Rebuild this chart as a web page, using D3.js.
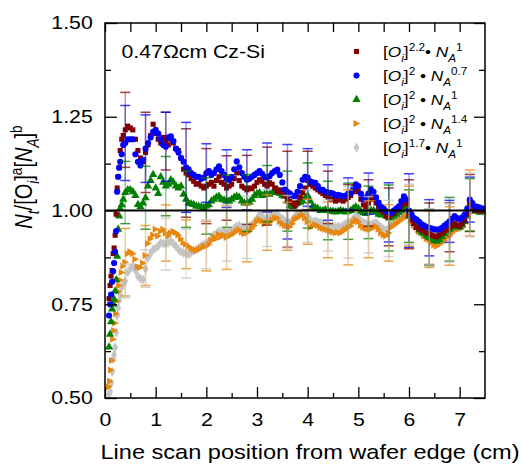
<!DOCTYPE html>
<html>
<head>
<meta charset="utf-8">
<script src="https://cdn.jsdelivr.net/npm/d3@7"></script>
<style>
  body { margin: 0; background: #fff; }
  text { font-family: "Liberation Sans", Arial, sans-serif; fill: #000; }
</style>
</head>
<body>
<svg width="521" height="465"></svg>
<script>
// scan positions (cm from wafer edge)
const positions = [
  0.08, 0.10, 0.12, 0.14, 0.16, 0.18, 0.20, 0.22, 0.24, 0.26, 0.28, 0.30, 0.33, 0.36, 0.40, 0.45,
  0.50, 0.55, 0.60, 0.65, 0.70, 0.75, 0.80, 0.85, 0.90, 0.95,
  1.00, 1.05, 1.10, 1.15, 1.20, 1.25, 1.30, 1.35, 1.40, 1.45,
  1.50, 1.55, 1.60, 1.65, 1.70, 1.75, 1.80, 1.85, 1.90, 1.95,
  2.00, 2.05, 2.10, 2.15, 2.20, 2.25, 2.30, 2.35, 2.40, 2.45,
  2.50, 2.55, 2.60, 2.65, 2.70, 2.75, 2.80, 2.85, 2.90, 2.95,
  3.00, 3.05, 3.10, 3.15, 3.20, 3.25, 3.30, 3.35, 3.40, 3.45,
  3.50, 3.55, 3.60, 3.65, 3.70, 3.75, 3.80, 3.85, 3.90, 3.95,
  4.00, 4.05, 4.10, 4.15, 4.20, 4.25, 4.30, 4.35, 4.40, 4.45,
  4.50, 4.55, 4.60, 4.65, 4.70, 4.75, 4.80, 4.85, 4.90, 4.95,
  5.00, 5.05, 5.10, 5.15, 5.20, 5.25, 5.30, 5.35, 5.40, 5.45,
  5.50, 5.55, 5.60, 5.65, 5.70, 5.75, 5.80, 5.85, 5.90, 5.95,
  6.00, 6.05, 6.10, 6.15, 6.20, 6.25, 6.30, 6.35, 6.40, 6.45,
  6.50, 6.55, 6.60, 6.65, 6.70, 6.75, 6.80, 6.85, 6.90, 6.95,
  7.00, 7.05, 7.10, 7.15, 7.20, 7.25, 7.30, 7.35, 7.40, 7.45
];

// [Oi]^2.2 * NA^1
const sq22 = [
  0.765, 0.80, 0.825, 0.84, 0.885, 0.90, 0.934, 0.99, 1.06, 1.09, 1.115, 1.16, 1.19, 1.20, 1.215, 1.225,
  1.22, 1.215, 1.19, 1.16, 1.14, 1.13, 1.155, 1.175, 1.20, 1.23,
  1.205, 1.19, 1.18, 1.195, 1.185, 1.175, 1.19, 1.18, 1.165, 1.16,
  1.14, 1.11, 1.10, 1.095, 1.085, 1.078, 1.07, 1.072, 1.065, 1.06,
  1.065, 1.07, 1.075, 1.065, 1.08, 1.09, 1.075, 1.07, 1.06, 1.065,
  1.07, 1.085, 1.10, 1.08, 1.065, 1.06, 1.055, 1.06, 1.058, 1.065,
  1.075, 1.082, 1.078, 1.07, 1.065, 1.074, 1.07, 1.06, 1.05, 1.055,
  1.05, 1.04, 1.03, 1.025, 1.02, 1.012, 1.02, 1.035, 1.048, 1.06,
  1.08, 1.07, 1.065, 1.06, 1.055, 1.05, 1.045, 1.04, 1.035, 1.03,
  1.03, 1.025, 1.03, 1.028, 1.025, 1.03, 1.035, 1.04, 1.05, 1.056,
  1.05, 1.03, 1.015, 1.01, 1.02, 1.03, 1.035, 1.02, 1.01, 1.0,
  0.995, 0.985, 0.983, 0.99, 0.992, 1.0, 1.005, 1.012, 1.02, 1.018,
  0.99, 0.975, 0.965, 0.955, 0.95, 0.948, 0.945, 0.94, 0.938, 0.935,
  0.932, 0.93, 0.935, 0.94, 0.945, 0.95, 0.955, 0.96, 0.965, 0.96,
  0.958, 0.965, 0.975, 0.99, 1.02, 1.01, 1.0, 1.005, 0.998, 1.0
];

// [Oi]^2 * NA^0.7
const ci2 = [
  0.72, 0.75, 0.776, 0.81, 0.838, 0.86, 0.89, 0.945, 1.05, 1.09, 1.114, 1.13, 1.15, 1.175, 1.18, 1.19,
  1.19, 1.19, 1.15, 1.13, 1.12, 1.135, 1.165, 1.18, 1.195, 1.21,
  1.215, 1.205, 1.19, 1.175, 1.17, 1.195, 1.198, 1.185, 1.165, 1.155,
  1.14, 1.13, 1.115, 1.11, 1.10, 1.095, 1.09, 1.09, 1.085, 1.088,
  1.10, 1.105, 1.095, 1.10, 1.11, 1.118, 1.105, 1.095, 1.085, 1.082,
  1.09, 1.11, 1.131, 1.115, 1.10, 1.09, 1.082, 1.085, 1.09, 1.095,
  1.10, 1.105, 1.098, 1.09, 1.088, 1.092, 1.10, 1.105, 1.109, 1.095,
  1.075, 1.056, 1.05, 1.045, 1.04, 1.038, 1.05, 1.065, 1.082, 1.09,
  1.088, 1.078, 1.075, 1.074, 1.065, 1.056, 1.055, 1.05, 1.048, 1.047,
  1.045, 1.04, 1.042, 1.04, 1.038, 1.04, 1.045, 1.047, 1.06, 1.07,
  1.065, 1.045, 1.03, 1.035, 1.045, 1.056, 1.05, 1.035, 1.021, 1.01,
  1.005, 0.998, 0.995, 0.994, 1.0, 1.005, 1.011, 1.025, 1.038, 1.03,
  1.0, 0.99, 0.98, 0.976, 0.97, 0.963, 0.96, 0.956, 0.954, 0.952,
  0.95, 0.949, 0.95, 0.954, 0.96, 0.965, 0.971, 0.978, 0.985, 0.98,
  0.976, 0.982, 0.989, 1.005, 1.029, 1.02, 1.011, 1.01, 1.008, 1.005
];

// [Oi]^2 * NA^1
const tr2 = [
  0.636, 0.67, 0.703, 0.737, 0.75, 0.763, 0.785, 0.815, 0.878, 0.95, 0.985, 1.005, 1.015, 1.03, 1.048, 1.055,
  1.055, 1.05, 1.04, 1.016, 1.01, 1.02, 1.034, 1.065, 1.08, 1.096,
  1.06, 1.045, 1.09, 1.075, 1.065, 1.07, 1.082, 1.075, 1.065, 1.06,
  1.065, 1.043, 1.03, 1.02, 1.018, 1.016, 1.012, 1.011, 1.01, 1.008,
  1.012, 1.015, 1.025, 1.03, 1.035, 1.038, 1.03, 1.028, 1.025, 1.025,
  1.03, 1.035, 1.038, 1.035, 1.025, 1.02, 1.02, 1.022, 1.03, 1.04,
  1.045, 1.047, 1.04, 1.043, 1.045, 1.043, 1.048, 1.052, 1.056, 1.045,
  1.04, 1.038, 1.025, 1.013, 1.01, 1.015, 1.02, 1.022, 1.025, 1.035,
  1.04, 1.025, 1.011, 1.008, 1.005, 1.0, 1.0, 1.002, 1.0, 0.998,
  0.998, 0.996, 0.998, 1.0, 0.998, 0.996, 0.998, 1.0, 1.005, 1.01,
  1.005, 0.998, 0.994, 0.992, 0.995, 1.0, 1.0, 0.995, 0.99, 0.988,
  0.99, 0.985, 0.98, 0.982, 0.985, 0.99, 0.995, 1.0, 1.01, 1.005,
  0.985, 0.975, 0.965, 0.955, 0.948, 0.942, 0.938, 0.932, 0.928, 0.925,
  0.92, 0.918, 0.922, 0.93, 0.938, 0.945, 0.95, 0.955, 0.96, 0.958,
  0.955, 0.962, 0.97, 0.985, 1.015, 1.005, 0.998, 1.0, 0.995, 0.998
];

// [Oi]^2 * NA^1.4
const rt2 = [
  0.53, 0.545, 0.575, 0.60, 0.657, 0.68, 0.70, 0.725, 0.759, 0.785, 0.80, 0.815, 0.835, 0.852, 0.862, 0.885,
  0.89, 0.885, 0.87, 0.85, 0.848, 0.86, 0.88, 0.912, 0.925, 0.935,
  0.95, 0.932, 0.945, 0.95, 0.94, 0.932, 0.94, 0.945, 0.941, 0.935,
  0.925, 0.914, 0.91, 0.905, 0.90, 0.896, 0.893, 0.896, 0.90, 0.905,
  0.905, 0.91, 0.92, 0.93, 0.925, 0.936, 0.93, 0.935, 0.928, 0.932,
  0.935, 0.94, 0.945, 0.949, 0.942, 0.938, 0.94, 0.945, 0.952, 0.96,
  0.97, 0.976, 0.972, 0.965, 0.968, 0.968, 0.975, 0.98, 0.981, 0.97,
  0.965, 0.96, 0.958, 0.956, 0.965, 0.976, 0.98, 0.985, 0.989, 0.98,
  0.97, 0.955, 0.958, 0.963, 0.96, 0.955, 0.952, 0.95, 0.948, 0.945,
  0.943, 0.94, 0.942, 0.94, 0.945, 0.95, 0.955, 0.958, 0.968, 0.976,
  0.97, 0.96, 0.955, 0.952, 0.95, 0.95, 0.955, 0.958, 0.95, 0.94,
  0.935, 0.932, 0.94, 0.955, 0.96, 0.965, 0.97, 0.975, 0.98, 0.985,
  0.985, 0.97, 0.96, 0.954, 0.945, 0.94, 0.932, 0.925, 0.923, 0.915,
  0.908, 0.905, 0.91, 0.914, 0.92, 0.928, 0.932, 0.94, 0.948, 0.95,
  0.952, 0.954, 0.97, 0.985, 1.02, 1.01, 1.008, 1.005, 1.003, 1.0
];

// [Oi]^1.7 * NA^1
const di17 = [
  0.51, 0.517, 0.54, 0.57, 0.604, 0.615, 0.635, 0.675, 0.72, 0.741, 0.76, 0.775, 0.794, 0.805, 0.812, 0.835,
  0.845, 0.852, 0.84, 0.825, 0.818, 0.816, 0.845, 0.874, 0.885, 0.896,
  0.90, 0.905, 0.914, 0.912, 0.91, 0.915, 0.918, 0.912, 0.905, 0.896,
  0.89, 0.887, 0.885, 0.883, 0.888, 0.893, 0.896, 0.90, 0.905, 0.91,
  0.91, 0.918, 0.925, 0.935, 0.938, 0.945, 0.94, 0.945, 0.94, 0.942,
  0.945, 0.952, 0.958, 0.96, 0.955, 0.952, 0.955, 0.958, 0.962, 0.97,
  0.978, 0.99, 0.985, 0.978, 0.98, 0.982, 0.988, 0.99, 0.992, 0.982,
  0.978, 0.972, 0.97, 0.968, 0.975, 0.985, 0.99, 0.992, 0.995, 0.99,
  0.985, 0.975, 0.97, 0.972, 0.97, 0.968, 0.965, 0.962, 0.96, 0.958,
  0.958, 0.955, 0.958, 0.956, 0.96, 0.965, 0.968, 0.97, 0.978, 0.985,
  0.98, 0.972, 0.968, 0.965, 0.962, 0.962, 0.966, 0.968, 0.962, 0.955,
  0.95, 0.948, 0.952, 0.962, 0.968, 0.972, 0.978, 0.982, 0.988, 0.99,
  0.99, 0.975, 0.965, 0.958, 0.95, 0.945, 0.94, 0.935, 0.93, 0.925,
  0.918, 0.915, 0.918, 0.922, 0.928, 0.935, 0.94, 0.945, 0.952, 0.955,
  0.955, 0.96, 0.972, 0.99, 1.015, 1.008, 1.005, 1.002, 1.0, 0.998
];

// error bars: positions and half widths per series
const errPositions = [0.4, 0.8, 1.2, 1.6, 2.0, 2.4, 2.8, 3.2, 3.6, 4.0, 4.4, 4.8, 5.2, 5.6, 6.0, 6.4, 6.8, 7.2];
const sq22Err = [0.10, 0.107, 0.077, 0.118, 0.10, 0.086, 0.092, 0.104, 0.128, 0.078, 0.07, 0.034, 0.062, 0.077, 0.092, 0.082, 0.065, 0.076];
const ci2Err  = [0.10, 0.09, 0.092, 0.12, 0.078, 0.077, 0.08, 0.092, 0.126, 0.077, 0.074, 0.042, 0.055, 0.079, 0.098, 0.075, 0.056, 0.06];
const tr2Err  = [0.083, 0.084, 0.079, 0.075, 0.075, 0.07, 0.076, 0.075, 0.08, 0.087, 0.078, 0.075, 0.07, 0.088, 0.07, 0.075, 0.085, 0.07];
const rt2Err  = [0.09, 0.08, 0.075, 0.065, 0.066, 0.085, 0.077, 0.074, 0.064, 0.06, 0.074, 0.10, 0.076, 0.075, 0.08, 0.075, 0.078, 0.088];
const di17Err = [0.045, 0.05, 0.069, 0.065, 0.065, 0.075, 0.083, 0.076, 0.07, 0.07, 0.068, 0.095, 0.075, 0.075, 0.08, 0.075, 0.078, 0.085];

const xMajor = [0, 1, 2, 3, 4, 5, 6, 7];
const xMinor = [0.5, 1.5, 2.5, 3.5, 4.5, 5.5, 6.5];
const yMajor = [0.5, 0.75, 1.0, 1.25, 1.5];
const yMinor = [0.625, 0.875, 1.125, 1.375];

// legend labels: [text, style]
const legendLabels = [
  [["[", ""], ["O", "it"], ["i", "sub it"], ["]", ""], ["2.2", "sup"], ["\u2022 ", ""], ["N", "it"], ["A", "sub it"], ["1", "sup"]],
  [["[", ""], ["O", "it"], ["i", "sub it"], ["]", ""], ["2", "sup"], [" \u2022 ", ""], ["N", "it"], ["A", "sub it"], ["0.7", "sup"]],
  [["[", ""], ["O", "it"], ["i", "sub it"], ["]", ""], ["2", "sup"], [" \u2022 ", ""], ["N", "it"], ["A", "sub it"], ["1", "sup"]],
  [["[", ""], ["O", "it"], ["i", "sub it"], ["]", ""], ["2", "sup"], [" \u2022 ", ""], ["N", "it"], ["A", "sub it"], ["1.4", "sup"]],
  [["[", ""], ["O", "it"], ["i", "sub it"], ["]", ""], ["1.7", "sup"], ["\u2022 ", ""], ["N", "it"], ["A", "sub it"], ["1", "sup"]]
];
const yLabel = [["N", "it"], ["t", "sub it"], ["/[O", ""], ["i", "sub it"], ["]", ""], ["a", "sup"], ["[", ""], ["N", "it"], ["A", "sub it"], ["]", ""], ["b", "sup"]];

const series = [
  { values: sq22, err: sq22Err, color: "#800000", shape: "square" },
  { values: ci2,  err: ci2Err,  color: "#0000ff", shape: "circle" },
  { values: tr2,  err: tr2Err,  color: "#008000", shape: "triangle" },
  { values: rt2,  err: rt2Err,  color: "#e8870e", shape: "right" },
  { values: di17, err: di17Err, color: "#c4c4c4", shape: "diamond" }
];

const svg = d3.select("svg");
const x = d3.scaleLinear().domain([0, 7.5]).range([105, 485]);
const y = d3.scaleLinear().domain([0.5, 1.5]).range([398, 23]);
const wide = "scale(1.15,1)";

function markerPath(shape) {
  if (shape === "square") return d3.symbol(d3.symbolSquare, 26)();
  if (shape === "circle") return d3.symbol(d3.symbolCircle, 30)();
  if (shape === "triangle") return d3.symbol(d3.symbolTriangle, 30)();
  if (shape === "diamond") return d3.symbol(d3.symbolDiamond, 30)();
  return "M-3,-3.5L3.8,0L-3,3.5Z";
}

function rich(text, parts, size) {
  let shift = 0;
  parts.forEach(([t, style]) => {
    const sub = style.includes("sub"), sup = style.includes("sup");
    const target = sub ? 0.3 * size : sup ? -0.42 * size : 0;
    text.append("tspan")
        .attr("dy", target - shift)
        .style("font-size", (sub || sup) ? size * 0.68 + "px" : size + "px")
        .style("font-style", style.includes("it") ? "italic" : "normal")
        .text(t);
    shift = target;
  });
}

// markers, drawn back to front
const drawOrder = [4, 3, 2, 0, 1];
drawOrder.forEach(i => {
  const s = series[i];
  svg.append("g")
     .selectAll("path")
     .data(s.values)
     .join("path")
     .attr("d", markerPath(s.shape))
     .attr("transform", (d, j) => `translate(${x(positions[j])},${y(d)})`)
     .attr("fill", s.color);
});

// error bars
series.forEach(s => {
  const g = svg.append("g");
  errPositions.forEach((ex, k) => {
    const c = s.values[d3.minIndex(positions, p => Math.abs(p - ex))];
    const e = s.err[k];
    g.append("line")
     .attr("x1", x(ex)).attr("x2", x(ex))
     .attr("y1", y(c + e)).attr("y2", y(c - e))
     .attr("stroke", s.color).attr("stroke-width", 1.5).attr("opacity", 0.4);
    [c + e, c - e].forEach(v => {
      g.append("line")
       .attr("x1", x(ex) - 5).attr("x2", x(ex) + 5)
       .attr("y1", y(v)).attr("y2", y(v))
       .attr("stroke", s.color).attr("stroke-width", 1.5).attr("opacity", 0.75);
    });
  });
});

// reference line at 1
svg.append("line")
   .attr("x1", x(0)).attr("x2", x(7.5))
   .attr("y1", y(1)).attr("y2", y(1))
   .attr("stroke", "#000").attr("stroke-width", 2);

// axes
function tickAxis(axis, values, size, labels, pad) {
  const a = axis.tickValues(values).tickSizeInner(-size).tickSizeOuter(0).tickPadding(pad || 3);
  if (!labels) a.tickFormat("");
  return a;
}
const bottom = svg.append("g").attr("transform", "translate(0,398)")
  .call(tickAxis(d3.axisBottom(x), xMajor, 11, true, 15).tickFormat(d3.format("d")));
svg.append("g").attr("transform", "translate(0,398)").call(tickAxis(d3.axisBottom(x), xMinor, 5));
svg.append("g").attr("transform", "translate(0,23)").call(tickAxis(d3.axisTop(x), xMajor.concat(xMinor), 9));
const left = svg.append("g").attr("transform", "translate(105,0)")
  .call(tickAxis(d3.axisLeft(y), yMajor, 12, true, 10.7).tickFormat(d3.format(".2f")));
svg.append("g").attr("transform", "translate(105,0)").call(tickAxis(d3.axisLeft(y), yMinor, 6));
svg.append("g").attr("transform", "translate(485,0)").call(tickAxis(d3.axisRight(y), yMajor, 11));
svg.append("g").attr("transform", "translate(485,0)").call(tickAxis(d3.axisRight(y), yMinor, 6));

svg.selectAll(".domain").remove();
svg.selectAll(".tick line").attr("stroke", "#000").attr("stroke-width", 1.3);
[bottom, left].forEach(g => g.selectAll("text")
  .attr("font-family", null).style("font-size", "18.5px").attr("transform", wide));

// frame
svg.append("rect")
   .attr("x", 105).attr("y", 23).attr("width", 380).attr("height", 375)
   .attr("fill", "none").attr("stroke", "#000").attr("stroke-width", 1.5);

// axis titles and annotation
svg.append("text")
   .attr("transform", `translate(310,459) ${wide}`)
   .attr("text-anchor", "middle").style("font-size", "20.5px")
   .text("Line scan position from wafer edge (cm)");

const yl = svg.append("text")
   .attr("transform", `translate(32,177) ${wide} rotate(-90)`)
   .attr("text-anchor", "middle");
rich(yl, yLabel, 20);

svg.append("text")
   .attr("transform", `translate(121.5,57.5) ${wide}`)
   .style("font-size", "18.5px")
   .text("0.47\u03a9cm Cz-Si");

// legend
const legendRows = [51.5, 75.5, 99.5, 123.5, 147.5];
series.forEach((s, i) => {
  svg.append("path")
     .attr("d", markerPath(s.shape))
     .attr("transform", `translate(356.5,${legendRows[i]})`)
     .attr("fill", s.color);
  const t = svg.append("text")
     .attr("transform", `translate(383,${legendRows[i] + 5.5}) ${wide}`);
  rich(t, legendLabels[i], 15);
});
</script>
</body>
</html>
